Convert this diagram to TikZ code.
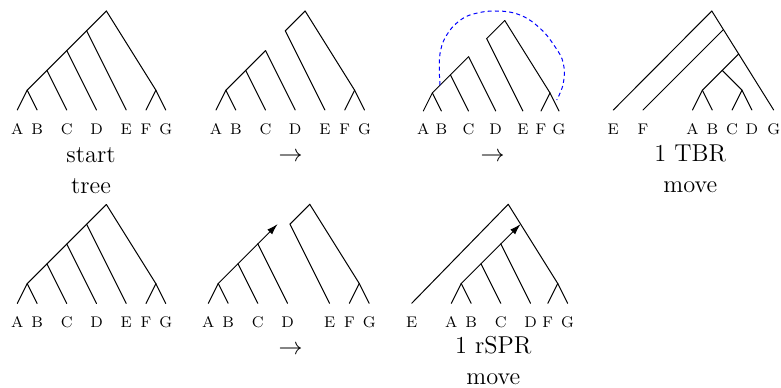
\documentclass[tikz,border=0pt]{standalone}
\usetikzlibrary{arrows.meta}
\tikzset{
  branch/.style={line width=0.5pt, line cap=round},
  regraft/.style={branch, -{Latex[length=5.5pt,width=3.4pt]}},
  leaf/.style={anchor=north, inner sep=0pt, yshift=-5pt, text height=0.7em, text depth=0pt,
    font=\fontsize{7.7}{9}\selectfont},
  caption/.style={anchor=base, inner sep=0pt, font=\fontsize{12.2}{15}\selectfont},
  cycle/.style={blue, line width=0.5pt, dash pattern=on 2pt off 1.6pt}
}
\begin{document}
\begin{tikzpicture}[x=0.5pt, y=-0.5pt]
\useasboundingbox (0,0) rectangle (781,387);

% ---------- start tree (top left) ----------
\begin{scope}[shift={(17.3,110)}, x=4.95pt, y=4.95pt]
  \coordinate (aA) at (0,0);  \coordinate (aB) at (2,0);  \coordinate (aC) at (5,0);
  \coordinate (aD) at (8,0);  \coordinate (aE) at (11,0); \coordinate (aF) at (13,0);
  \coordinate (aG) at (15,0);
  \coordinate (aab) at (1,2); \coordinate (an2) at (3,4); \coordinate (an3) at (5,6);
  \coordinate (an4) at (7,8); \coordinate (ar) at (9,10); \coordinate (afg) at (14,2);
  \draw[branch] (ar) -- (an4) -- (an3) -- (an2) -- (aab);
  \draw[branch] (aab) -- (aA); \draw[branch] (aab) -- (aB);
  \draw[branch] (an2) -- (aC); \draw[branch] (an3) -- (aD); \draw[branch] (an4) -- (aE);
  \draw[branch] (ar) -- (afg); \draw[branch] (afg) -- (aF); \draw[branch] (afg) -- (aG);
  \foreach \l in {A,B,C,D,E,F,G} \node[leaf] (la\l) at (a\l) {\l};
\end{scope}
\node[caption] (capa1) at (91,162) {start};
\node[caption] (capa2) at (91,193) {tree};

% ---------- pruned subtree (top, second) ----------
\begin{scope}[shift={(216,110)}, x=4.95pt, y=4.95pt]
  \coordinate (bA) at (0,0);  \coordinate (bB) at (2,0);  \coordinate (bC) at (5,0);
  \coordinate (bD) at (8,0);  \coordinate (bE) at (11,0); \coordinate (bF) at (13,0);
  \coordinate (bG) at (15,0);
  \coordinate (bab) at (1,2); \coordinate (bn2) at (3,4); \coordinate (bn3) at (5,6);
  \coordinate (bn4) at (7,8); \coordinate (br) at (9,10); \coordinate (bfg) at (14,2);
  \draw[branch] (bn3) -- (bn2) -- (bab);
  \draw[branch] (bab) -- (bA); \draw[branch] (bab) -- (bB);
  \draw[branch] (bn2) -- (bC); \draw[branch] (bn3) -- (bD);
  \draw[branch] (bn4) -- (br); \draw[branch] (bn4) -- (bE);
  \draw[branch] (br) -- (bfg); \draw[branch] (bfg) -- (bF); \draw[branch] (bfg) -- (bG);
  \foreach \l in {A,B,C,D,E,F,G} \node[leaf] (lb\l) at (b\l) {\l};
\end{scope}
\node[caption] (capb) at (290.5,161) {$\rightarrow$};

% ---------- reconnection (top, third) ----------
\begin{scope}[shift={(423.3,111)}, x=4.525pt, y=4.525pt]
  \coordinate (cA) at (0,0);  \coordinate (cB) at (2,0);  \coordinate (cC) at (5,0);
  \coordinate (cD) at (8,0);  \coordinate (cE) at (11,0); \coordinate (cF) at (13,0);
  \coordinate (cG) at (15,0);
  \coordinate (cab) at (1,2); \coordinate (cn2) at (3,4); \coordinate (cn3) at (5,6);
  \coordinate (cn4) at (7,8); \coordinate (cr) at (9,10); \coordinate (cfg) at (14,2);
  \draw[branch] (cn3) -- (cn2) -- (cab);
  \draw[branch] (cab) -- (cA); \draw[branch] (cab) -- (cB);
  \draw[branch] (cn2) -- (cC); \draw[branch] (cn3) -- (cD);
  \draw[branch] (cn4) -- (cr); \draw[branch] (cn4) -- (cE);
  \draw[branch] (cr) -- (cfg); \draw[branch] (cfg) -- (cF); \draw[branch] (cfg) -- (cG);
  \foreach \l in {A,B,C,D,E,F,G} \node[leaf, yshift=0.5pt] (lc\l) at (c\l) {\l};
\end{scope}
\draw[cycle] plot[smooth, tension=0.7] coordinates {
  (440,85) (439.3,66.7) (440.7,50) (446.7,35) (458.3,21.7) (473.3,14) (496.7,11)
  (520,15) (540,28.3) (555,46.7) (563.3,63.3) (563.3,83.3) (556.7,100)};
\node[caption] (capc) at (492.7,161) {$\rightarrow$};

% ---------- after one TBR move (top right) ----------
\begin{scope}[shift={(613.3,110)}, x=4.95pt, y=4.95pt]
  \coordinate (dE) at (0,0);  \coordinate (dF) at (3,0);  \coordinate (dA) at (8,0);
  \coordinate (dB) at (10,0); \coordinate (dC) at (12,0); \coordinate (dD) at (14,0);
  \coordinate (dG) at (16.2,0);
  \coordinate (dab) at (9,2); \coordinate (dcd) at (13,2); \coordinate (dabcd) at (11,4);
  \coordinate (dr) at (9.95,10);
  \coordinate (dsF) at (11.123,8.123); \coordinate (dsX) at (12.662,5.662);
  \draw[branch] (dr) -- (dE);
  \draw[branch] (dr) -- (dsF) -- (dsX) -- (dG);
  \draw[branch] (dsF) -- (dF);
  \draw[branch] (dsX) -- (dabcd);
  \draw[branch] (dabcd) -- (dab); \draw[branch] (dabcd) -- (dcd);
  \draw[branch] (dab) -- (dA); \draw[branch] (dab) -- (dB);
  \draw[branch] (dcd) -- (dC); \draw[branch] (dcd) -- (dD);
  \foreach \l in {E,F,A,B,C,D,G} \node[leaf] (ld\l) at (d\l) {\l};
\end{scope}
\node[caption] (capd1) at (690.3,161) {1 TBR};
\node[caption] (capd2) at (690.3,192) {move};

% ---------- start tree (bottom left) ----------
\begin{scope}[shift={(17.3,303.5)}, x=4.95pt, y=4.95pt]
  \coordinate (eA) at (0,0);  \coordinate (eB) at (2,0);  \coordinate (eC) at (5,0);
  \coordinate (eD) at (8,0);  \coordinate (eE) at (11,0); \coordinate (eF) at (13,0);
  \coordinate (eG) at (15,0);
  \coordinate (eab) at (1,2); \coordinate (en2) at (3,4); \coordinate (en3) at (5,6);
  \coordinate (en4) at (7,8); \coordinate (er) at (9,10); \coordinate (efg) at (14,2);
  \draw[branch] (er) -- (en4) -- (en3) -- (en2) -- (eab);
  \draw[branch] (eab) -- (eA); \draw[branch] (eab) -- (eB);
  \draw[branch] (en2) -- (eC); \draw[branch] (en3) -- (eD); \draw[branch] (en4) -- (eE);
  \draw[branch] (er) -- (efg); \draw[branch] (efg) -- (eF); \draw[branch] (efg) -- (eG);
  \foreach \l in {A,B,C,D,E,F,G} \node[leaf] (le\l) at (e\l) {\l};
\end{scope}

% ---------- pruned subtree with regraft arrow (bottom, second) ----------
\begin{scope}[shift={(208.3,303.3)}, x=4.95pt, y=4.95pt]
  \coordinate (fA) at (0,0);  \coordinate (fB) at (2,0);  \coordinate (fC) at (5,0);
  \coordinate (fD) at (8,0);
  \coordinate (fab) at (1,2); \coordinate (fn2) at (3,4); \coordinate (fn3) at (5,6);
  \coordinate (ftip) at (7,8);
  \coordinate (fE) at (12.25,0); \coordinate (fF) at (14.25,0); \coordinate (fG) at (16.25,0);
  \coordinate (fn4) at (8.25,8); \coordinate (fr) at (10.25,10); \coordinate (ffg) at (15.25,2);
  \draw[branch] (fn3) -- (fn2) -- (fab);
  \draw[regraft] (fn3) -- (ftip);
  \draw[branch] (fab) -- (fA); \draw[branch] (fab) -- (fB);
  \draw[branch] (fn2) -- (fC); \draw[branch] (fn3) -- (fD);
  \draw[branch] (fn4) -- (fr); \draw[branch] (fn4) -- (fE);
  \draw[branch] (fr) -- (ffg); \draw[branch] (ffg) -- (fF); \draw[branch] (ffg) -- (fG);
  \foreach \l in {A,B,C,D,E,F,G} \node[leaf] (lf\l) at (f\l) {\l};
\end{scope}
\node[caption] (capf) at (290.5,354) {$\rightarrow$};

% ---------- after one rSPR move (bottom, third) ----------
\begin{scope}[shift={(411.7,303.3)}, x=4.95pt, y=4.95pt]
  \coordinate (gE) at (0,0);  \coordinate (gA) at (4,0);  \coordinate (gB) at (6,0);
  \coordinate (gC) at (9,0);  \coordinate (gD) at (12,0); \coordinate (gF) at (13.75,0);
  \coordinate (gG) at (15.75,0);
  \coordinate (gab) at (5,2); \coordinate (gn2) at (7,4); \coordinate (gn3) at (9,6);
  \coordinate (gtip) at (11,8); \coordinate (gr) at (9.75,10); \coordinate (gfg) at (14.75,2);
  \draw[branch] (gr) -- (gE);
  \draw[branch] (gr) -- (gfg); \draw[branch] (gfg) -- (gF); \draw[branch] (gfg) -- (gG);
  \draw[branch] (gn3) -- (gn2) -- (gab);
  \draw[regraft] (gn3) -- (gtip);
  \draw[branch] (gab) -- (gA); \draw[branch] (gab) -- (gB);
  \draw[branch] (gn2) -- (gC); \draw[branch] (gn3) -- (gD);
  \foreach \l in {E,A,B,C,D,F,G} \node[leaf] (lg\l) at (g\l) {\l};
\end{scope}
\node[caption] (capg1) at (493.3,353) {1 rSPR};
\node[caption] (capg2) at (493.3,384) {move};
\end{tikzpicture}
\end{document}
